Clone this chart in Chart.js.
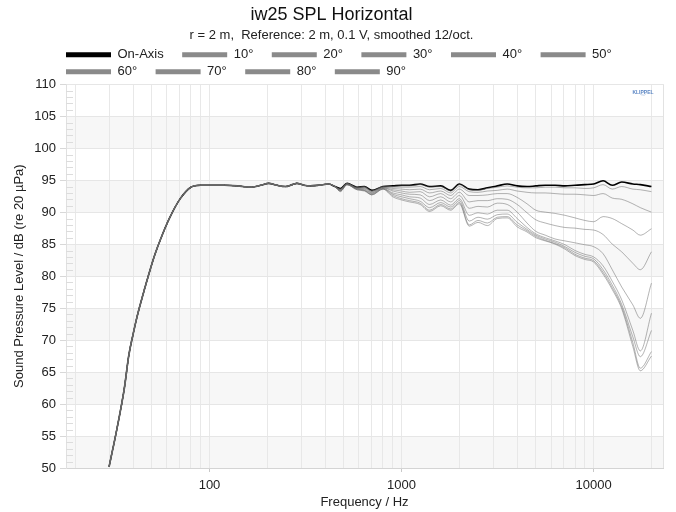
<!DOCTYPE html>
<html>
<head>
<meta charset="utf-8">
<script src="https://cdn.jsdelivr.net/npm/chart.js@4.4.1/dist/chart.umd.min.js"></script>
<style>
body { margin: 0; background: #fff; }
#wrap { width: 676px; height: 512px; }
</style>
</head>
<body>
<div id="wrap"><canvas id="splChart"></canvas></div>
<script>
// frequencies where every angle shares the same curve
const lowFreqs = [30, 33, 36, 38, 40, 42, 44, 48, 52, 56, 62, 70, 80, 90, 100, 120, 140, 163, 185, 203, 225, 248, 270, 285, 310, 335, 370, 417, 450];
const lowCommon = [50.2, 56.2, 62.4, 67.6, 70.9, 73.7, 76.0, 80.0, 83.4, 86.0, 89.1, 92.0, 93.9, 94.2, 94.2, 94.2, 94.1, 93.9, 94.2, 94.5, 94.2, 94.0, 94.3, 94.5, 94.2, 94.1, 94.2, 94.4, 94.0];

// from here on the angles split apart
const highFreqs = [480, 520, 586, 640, 700, 800, 900, 1000, 1100, 1250, 1400, 1600, 1800, 2000, 2250, 2500, 2800, 3150, 3550, 4000, 4500, 5000, 5600, 6300, 7100, 8000, 9000, 10000, 11200, 12500, 14000, 16000, 17500, 20000];
const onAxis = [93.7, 94.5, 93.9, 94.0, 93.4, 94.0, 94.1, 94.2, 94.2, 94.4, 94.0, 94.1, 93.4, 94.4, 93.6, 93.5, 93.8, 94.1, 94.4, 94.1, 94.0, 94.1, 94.2, 94.2, 94.1, 94.2, 94.3, 94.4, 94.9, 94.2, 94.7, 94.4, 94.3, 94.0];
const deg10 = [93.6, 94.5, 93.9, 94.0, 93.3, 94.0, 94.0, 94.1, 94.1, 94.3, 93.9, 94.0, 93.3, 94.3, 93.5, 93.4, 93.7, 93.9, 94.1, 93.9, 93.8, 93.8, 93.9, 93.9, 93.8, 93.8, 93.7, 93.8, 94.3, 93.6, 94.0, 93.6, 93.5, 93.2];
const deg20 = [93.6, 94.5, 93.8, 93.9, 93.3, 93.9, 93.9, 93.9, 93.9, 94.0, 93.5, 93.7, 93.0, 94.0, 93.2, 93.1, 93.3, 93.4, 93.6, 93.3, 93.1, 93.0, 93.0, 92.9, 92.8, 92.8, 92.7, 92.6, 92.9, 92.2, 92.0, 91.3, 90.7, 90.0];
const deg30 = [93.5, 94.4, 93.8, 93.8, 93.2, 93.9, 93.7, 93.6, 93.5, 93.6, 93.0, 93.3, 92.6, 93.6, 92.6, 92.6, 92.7, 92.9, 92.9, 92.3, 91.3, 90.3, 90.0, 89.8, 89.5, 89.1, 88.7, 88.5, 89.3, 89.0, 88.2, 87.2, 86.4, 87.4];
const deg40 = [93.5, 94.4, 93.7, 93.7, 93.1, 93.8, 93.5, 93.3, 93.1, 93.2, 92.4, 92.9, 92.1, 93.1, 91.6, 91.8, 91.8, 92.1, 92.0, 91.2, 89.9, 88.8, 88.3, 87.9, 87.6, 87.5, 87.3, 87.2, 86.5, 85.0, 83.8, 82.0, 81.0, 83.8];
const deg50 = [93.4, 94.4, 93.7, 93.6, 93.0, 93.8, 93.3, 93.0, 92.8, 92.7, 91.8, 92.4, 91.6, 92.6, 90.6, 90.9, 90.8, 91.4, 91.2, 90.0, 88.3, 87.0, 86.4, 85.8, 85.5, 85.2, 84.9, 84.6, 83.5, 81.0, 78.3, 75.5, 73.4, 78.9];
const deg60 = [93.4, 94.3, 93.6, 93.5, 92.9, 93.7, 93.0, 92.7, 92.4, 92.2, 91.2, 91.9, 91.1, 92.1, 89.5, 89.9, 89.7, 90.3, 90.3, 89.0, 87.6, 86.6, 86.0, 85.5, 84.9, 84.0, 83.4, 83.0, 81.6, 79.2, 76.3, 71.5, 68.3, 74.2];
const deg70 = [93.3, 94.3, 93.6, 93.4, 92.8, 93.7, 92.8, 92.4, 92.1, 91.7, 90.7, 91.5, 90.8, 91.8, 88.6, 89.2, 88.9, 89.6, 89.7, 88.4, 87.3, 86.4, 85.8, 85.3, 84.6, 83.7, 83.1, 82.7, 81.0, 78.6, 75.6, 70.5, 67.4, 71.5];
const deg80 = [93.3, 94.3, 93.5, 93.4, 92.7, 93.6, 92.6, 92.1, 91.8, 91.4, 90.3, 91.2, 90.5, 91.5, 88.0, 88.7, 88.3, 89.2, 89.3, 88.0, 87.1, 86.2, 85.6, 85.1, 84.4, 83.4, 82.8, 82.4, 80.6, 78.2, 75.2, 69.6, 65.6, 68.2];
const deg90 = [93.2, 94.3, 93.5, 93.3, 92.7, 93.6, 92.4, 91.9, 91.6, 91.2, 90.1, 91.0, 90.3, 91.3, 87.8, 88.4, 87.9, 89.0, 89.1, 87.7, 86.9, 86.0, 85.5, 85.0, 84.2, 83.2, 82.6, 82.2, 80.3, 77.9, 74.9, 69.0, 65.2, 67.5];

const seriesNames = ["On-Axis", "10°", "20°", "30°", "40°", "50°", "60°", "70°", "80°", "90°"];
const seriesValues = [onAxis, deg10, deg20, deg30, deg40, deg50, deg60, deg70, deg80, deg90];

// axis stuff
const xGridFreqs = [20, 30, 40, 50, 60, 70, 80, 90, 100, 200, 300, 400, 500, 600, 700, 800, 900, 1000, 2000, 3000, 4000, 5000, 6000, 7000, 8000, 9000, 10000, 20000];
const xTickLabels = [100, 1000, 10000];

const allFreqs = lowFreqs.concat(highFreqs);

function makePoints(vals)
{
	var full = lowCommon.concat(vals);
	return allFreqs.map(function (f, i) { return {x: f, y: full[i]}; });
}

var datasets = [];
for (var i = 0; i < seriesNames.length; i++)
{
	var isMain = (i === 0);
	datasets.push({
		label: seriesNames[i],
		data: makePoints(seriesValues[i]),
		borderColor: isMain ? "#000000" : "rgba(105,105,105,0.5)",
		backgroundColor: isMain ? "#000000" : "#8a8a8a",
		borderWidth: isMain ? 1.6 : 1,
		order: isMain ? 1 : 0, // on-axis underneath, the grey ones on top
		pointRadius: 0,
		cubicInterpolationMode: "monotone",
		fill: false
	});
}

// background bands, minor ticks, frame and the little logo
const plotDecor = {
	id: "plotDecor",
	beforeDraw(chart) {
		const ctx = chart.ctx;
		const area = chart.chartArea;
		const y = chart.scales.y;
		ctx.save();
		ctx.fillStyle = "#ffffff";
		ctx.fillRect(0, 0, chart.width, chart.height);
		ctx.fillStyle = "#f7f7f7";
		for (var v = 50; v < 110; v += 10)
		{
			var top = y.getPixelForValue(v + 5);
			var bot = y.getPixelForValue(v);
			ctx.fillRect(area.left, top, area.right - area.left, bot - top);
		}
		ctx.restore();
	},
	beforeDatasetsDraw(chart) {
		const ctx = chart.ctx;
		const area = chart.chartArea;
		const y = chart.scales.y;
		ctx.save();
		ctx.strokeStyle = "#dcdcdc";
		ctx.lineWidth = 1;
		ctx.beginPath();
		for (var v = 51; v < 110; v++)
		{
			if (v % 5 === 0) continue;
			var py = Math.round(y.getPixelForValue(v)) + 0.5;
			ctx.moveTo(area.left, py);
			ctx.lineTo(area.left + 7, py);
		}
		ctx.stroke();
		ctx.strokeStyle = "#e2e2e2";
		ctx.beginPath();
		ctx.moveTo(Math.round(area.right) + 0.5, area.top);
		ctx.lineTo(Math.round(area.right) + 0.5, area.bottom);
		ctx.stroke();
		// KLIPPEL mark
		ctx.fillStyle = "#5b86c4";
		ctx.font = "bold 5px 'Liberation Sans', Arial, sans-serif";
		ctx.textAlign = "center";
		ctx.fillText("KLIPPEL", area.right - 20, area.top + 8);
		ctx.strokeStyle = "#9db5d8";
		ctx.lineWidth = 0.6;
		ctx.beginPath();
		ctx.arc(area.right - 20, area.top + 7, 4, 0.15 * Math.PI, 0.85 * Math.PI);
		ctx.stroke();
		ctx.restore();
	}
};

// start the legend at the left edge of the plot
const legendShift = {
	id: "legendShift",
	afterLayout(chart) {
		chart.legend.left -= 4;
	}
};

const fontFam = "'Liberation Sans', Arial, sans-serif";

new Chart("splChart", {
	type: "line",
	data: { datasets: datasets },
	plugins: [plotDecor, legendShift],
	options: {
		responsive: true,
		maintainAspectRatio: false,
		animation: false,
		layout: { padding: { left: 0, right: 13, top: 0, bottom: 0 } },
		plugins: {
			title: {
				display: true,
				text: "iw25 SPL Horizontal",
				color: "#111",
				font: { family: fontFam, size: 18, weight: "normal" },
				padding: { top: 4, bottom: 2 }
			},
			subtitle: {
				display: true,
				text: "r = 2 m,  Reference: 2 m, 0.1 V, smoothed 12/oct.",
				color: "#222",
				font: { family: fontFam, size: 13 },
				padding: { top: 0, bottom: 1 }
			},
			legend: {
				position: "top",
				align: "start",
				fullSize: false,
				maxHeight: 40,
				labels: {
					boxWidth: 45,
					boxHeight: 5,
					padding: 4,
					color: "#222",
					font: { family: fontFam, size: 13 },
					generateLabels: function (chart) {
						return chart.data.datasets.map(function (ds, i) {
							return {
								text: ds.label + "    ",
								fillStyle: ds.backgroundColor,
								strokeStyle: ds.backgroundColor,
								lineWidth: 0,
								hidden: false,
								datasetIndex: i,
								fontColor: "#222"
							};
						});
					}
				}
			},
			tooltip: { enabled: false }
		},
		scales: {
			x: {
				type: "logarithmic",
				min: 17.9,
				max: 22970,
				afterBuildTicks: function (scale) {
					scale.ticks = xGridFreqs.map(function (v) { return {value: v}; });
				},
				afterFit: function (scale) { scale.height = 44; },
				ticks: {
					autoSkip: false,
					maxRotation: 0,
					padding: 6,
					color: "#222",
					font: { family: fontFam, size: 13 },
					callback: function (value) {
						return xTickLabels.includes(value) ? String(value) : "";
					}
				},
				grid: {
					color: "#e8e8e8",
					tickLength: 4,
					tickColor: function (c) {
						return (c.tick && xTickLabels.includes(c.tick.value)) ? "#c8c8c8" : "rgba(0,0,0,0)";
					}
				},
				border: { color: "#d4d4d4" },
				title: {
					display: true,
					text: "Frequency / Hz",
					color: "#222",
					font: { family: fontFam, size: 13 },
					padding: { top: 0, bottom: 2 }
				}
			},
			y: {
				min: 50,
				max: 110,
				afterFit: function (scale) { scale.width = 66; },
				ticks: {
					stepSize: 5,
					padding: 4,
					color: "#222",
					font: { family: fontFam, size: 13 }
				},
				grid: {
					color: "#e6e6e6",
					tickLength: 6,
					tickColor: "#d8d8d8"
				},
				border: { color: "#e0e0e0" },
				title: {
					display: true,
					text: "Sound Pressure Level / dB (re 20 µPa)",
					color: "#222",
					font: { family: fontFam, size: 13 },
					padding: { top: 12, bottom: 0 }
				}
			}
		}
	}
});
</script>
</body>
</html>
